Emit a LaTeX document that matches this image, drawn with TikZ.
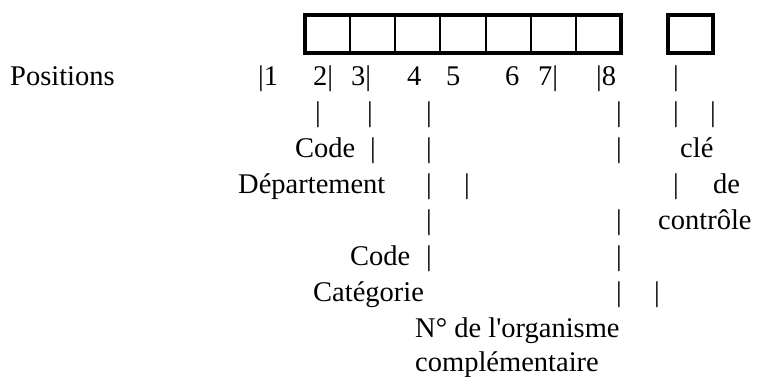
\documentclass[tikz,border=0pt]{standalone}
\usepackage{fontspec}
\setmainfont{Liberation Serif}[Ligatures=TeXOff]
\usetikzlibrary{calc}

\tikzset{
  txt/.style={anchor=base west, inner sep=0pt, font=\fontsize{28.5}{34}\selectfont},
  boxline/.style={line width=4pt},
  cellsep/.style={line width=2pt}
}

\begin{document}
\begin{tikzpicture}[x=1pt,y=-1pt]
  \useasboundingbox (0,0) rectangle (758,376);

  % Cases du numero
  \draw[boxline] (305,15) rectangle (621,53);
  \foreach \i in {1,...,6}
    \draw[cellsep] ({305+\i*45.14},15) -- ({305+\i*45.14},53);
  \draw[boxline] (668,15) rectangle (713,53);

  % Ligne des positions
  \node[txt] (pos) at (10,85) {Positions};
  \node[txt] (a1) at (258,85) {|1};
  \node[txt] (a2) at (313,85) {2|};
  \node[txt] (a3) at (351,85) {3|};
  \node[txt] (a4) at (407,85) {4};
  \node[txt] (a5) at (446,85) {5};
  \node[txt] (a6) at (505,85) {6};
  \node[txt] (a7) at (538,85) {7|};
  \node[txt] (a8) at (596,85) {|8};
  \node[txt] (a9) at (673,85) {|};

  % Traits
  \foreach \x [count=\k] in {315,367,426,616,673,710}
    \node[txt] (b\k) at (\x,121) {|};

  \node[txt] (codedep) at (295,157) {Code};
  \foreach \x [count=\k] in {370,426,616}
    \node[txt] (c\k) at (\x,157) {|};
  \node[txt] (cle) at (680,157) {clé};

  \node[txt] (dep) at (238,193) {Département};
  \foreach \x [count=\k] in {426,464,673}
    \node[txt] (d\k) at (\x,193) {|};
  \node[txt] (de) at (713,193) {de};

  \foreach \x [count=\k] in {426,616}
    \node[txt] (e\k) at (\x,229) {|};
  \node[txt] (controle) at (658,229) {contrôle};

  \node[txt] (codecat) at (350,265) {Code};
  \foreach \x [count=\k] in {426,616}
    \node[txt] (f\k) at (\x,265) {|};

  \node[txt] (cat) at (313,301) {Catégorie};
  \foreach \x [count=\k] in {616,654}
    \node[txt] (g\k) at (\x,301) {|};

  \node[txt] (org) at (415,337) {N° de l'organisme};
  \node[txt] (compl) at (415,371) {complémentaire};
\end{tikzpicture}
\end{document}
